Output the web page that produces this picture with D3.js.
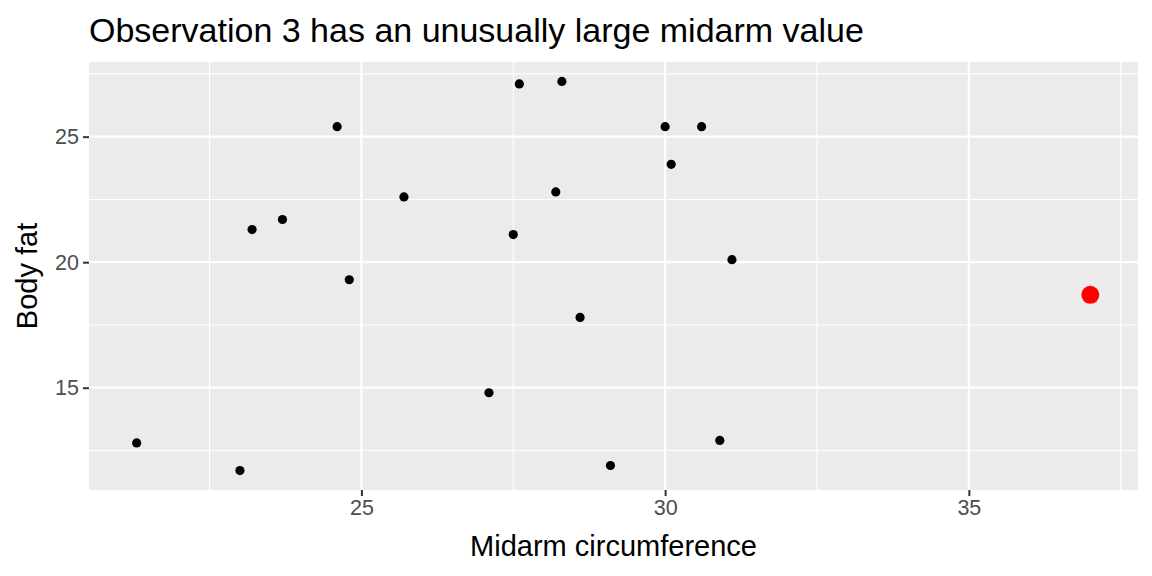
<!DOCTYPE html>
<html>
<head>
  <meta charset="utf-8">
  <script src="https://cdn.jsdelivr.net/npm/d3@7"></script>
  <style>
    body { margin: 0; background: #fff; }
    text { font-family: 'Liberation Sans', Arial, sans-serif; }
  </style>
</head>
<body>
<div id="chart"></div>
<script>
  // body fat data (midarm circumference vs body fat), observation 3 flagged
  var midarm  = [29.1, 28.2, 37.0, 31.1, 30.9, 23.7, 27.6, 30.6, 23.2, 24.8,
                 30.0, 28.3, 23.0, 28.6, 21.3, 30.1, 25.7, 24.6, 27.1, 27.5];
  var bodyfat = [11.9, 22.8, 18.7, 20.1, 12.9, 21.7, 27.1, 25.4, 21.3, 19.3,
                 25.4, 27.2, 11.7, 17.8, 12.8, 23.9, 22.6, 25.4, 14.8, 21.1];
  var highlight = 3;
  var xTicks = [25, 30, 35];
  var yTicks = [15, 20, 25];
  var xMinor = [22.5, 27.5, 32.5, 37.5];
  var yMinor = [12.5, 17.5, 22.5, 27.5];

  function draw() {
    var W = 1152, H = 576;
    var pLeft = 89, pRight = 1138, pTop = 62, pBottom = 490;

    var svg = d3.select("#chart").append("svg")
        .attr("width", W).attr("height", H);

    // ggplot style 5% expansion
    var xr = d3.extent(midarm), yr = d3.extent(bodyfat);
    var xp = (xr[1] - xr[0]) * 0.05, yp = (yr[1] - yr[0]) * 0.05;
    var x = d3.scaleLinear().domain([xr[0] - xp, xr[1] + xp]).range([pLeft, pRight]);
    var y = d3.scaleLinear().domain([yr[0] - yp, yr[1] + yp]).range([pBottom, pTop]);

    // panel
    svg.append("rect")
        .attr("x", pLeft).attr("y", pTop)
        .attr("width", pRight - pLeft).attr("height", pBottom - pTop)
        .attr("fill", "#ebebeb");

    var grid = svg.append("g");
    grid.selectAll(".vminor").data(xMinor).enter().append("line")
        .attr("x1", d => x(d)).attr("x2", d => x(d))
        .attr("y1", pTop).attr("y2", pBottom)
        .attr("stroke", "#fff").attr("stroke-width", 1.1);
    grid.selectAll(".hminor").data(yMinor).enter().append("line")
        .attr("y1", d => y(d)).attr("y2", d => y(d))
        .attr("x1", pLeft).attr("x2", pRight)
        .attr("stroke", "#fff").attr("stroke-width", 1.1);
    grid.selectAll(".vmajor").data(xTicks).enter().append("line")
        .attr("x1", d => x(d)).attr("x2", d => x(d))
        .attr("y1", pTop).attr("y2", pBottom)
        .attr("stroke", "#fff").attr("stroke-width", 2.2);
    grid.selectAll(".hmajor").data(yTicks).enter().append("line")
        .attr("y1", d => y(d)).attr("y2", d => y(d))
        .attr("x1", pLeft).attr("x2", pRight)
        .attr("stroke", "#fff").attr("stroke-width", 2.2);

    // axes
    var xAxis = d3.axisBottom(x).tickValues(xTicks).tickSize(6).tickPadding(4);
    var yAxis = d3.axisLeft(y).tickValues(yTicks).tickSize(6).tickPadding(4);

    var gx = svg.append("g").attr("transform", "translate(0," + pBottom + ")").call(xAxis);
    var gy = svg.append("g").attr("transform", "translate(" + pLeft + ",0)").call(yAxis);
    [gx, gy].forEach(function(g) {
      g.attr("font-family", null).attr("font-size", null);
      g.select(".domain").remove();
      g.selectAll(".tick line").attr("stroke", "#333").attr("stroke-width", 2);
      g.selectAll(".tick text")
        .style("font-family", "'Liberation Sans', Arial, sans-serif")
        .style("font-size", "21.5px").attr("fill", "#4d4d4d");
    });

    // points
    var pts = midarm.map(function(m, i) { return { x: m, y: bodyfat[i], id: i + 1 }; });
    svg.append("g").selectAll("circle")
        .data(pts.filter(d => d.id !== highlight)).enter().append("circle")
        .attr("cx", d => x(d.x)).attr("cy", d => y(d.y))
        .attr("r", 4.6).attr("fill", "#000");
    svg.append("g").selectAll("circle")
        .data(pts.filter(d => d.id === highlight)).enter().append("circle")
        .attr("cx", d => x(d.x)).attr("cy", d => y(d.y))
        .attr("r", 9).attr("fill", "#ff0000");

    // titles
    svg.append("text")
        .attr("x", pLeft).attr("y", 42)
        .style("font-size", "34px").attr("fill", "#000")
        .text("Observation 3 has an unusually large midarm value");

    svg.append("text")
        .attr("x", (pLeft + pRight) / 2).attr("y", 556)
        .attr("text-anchor", "middle")
        .style("font-size", "29px").attr("fill", "#000")
        .text("Midarm circumference");

    svg.append("text")
        .attr("transform", "translate(37," + ((pTop + pBottom) / 2) + ") rotate(-90)")
        .attr("text-anchor", "middle")
        .style("font-size", "29px").attr("fill", "#000")
        .text("Body fat");
  }

  draw();
</script>
</body>
</html>
